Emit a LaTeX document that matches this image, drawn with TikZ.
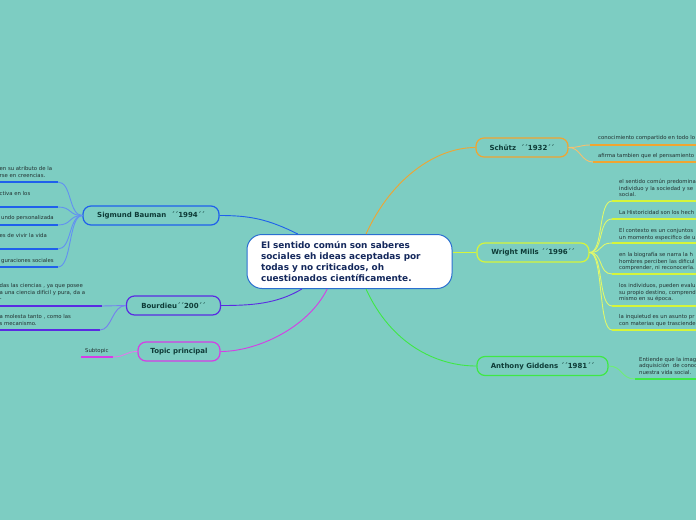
\documentclass[tikz,border=0pt]{standalone}
\usepackage{fontspec}
\setmainfont{DejaVu Sans}
\usetikzlibrary{positioning}
\definecolor{map-bg}{HTML}{7DCDC2}
\definecolor{map-navy}{HTML}{14285C}
\definecolor{map-dark}{HTML}{0E3B37}
\definecolor{map-sub}{HTML}{223030}
\definecolor{map-main}{HTML}{2A6FD0}
\definecolor{map-orange}{HTML}{F0A531}
\definecolor{map-lime}{HTML}{D6F53A}
\definecolor{map-green}{HTML}{3FE845}
\definecolor{map-blue}{HTML}{1F60EC}
\definecolor{map-indigo}{HTML}{5A2BE2}
\definecolor{map-magenta}{HTML}{D63CE6}

\begin{document}
\begin{tikzpicture}[x=1pt,y=-1pt,
  topic/.style={draw,rounded corners=8pt,line width=1.2pt,fill=map-bg,text=map-dark,
    font=\fontsize{7}{8}\selectfont\bfseries,minimum height=19pt,inner sep=0pt},
  subtext/.style={anchor=north west,align=left,inner sep=0pt,text=map-sub,
    font=\fontsize{5.35}{6.5}\selectfont},
  subline/.style={line width=2pt},
  link/.style={line width=0.9pt}]
  \useasboundingbox (0,0) rectangle (696,520);
  \fill[map-bg] (0,0) rectangle (696,520);
  \clip (0,0) rectangle (696,520);

  % central idea
  \node[draw=map-main,line width=1pt,fill=white,rounded corners=15pt,minimum width=205pt,
    minimum height=54pt,text width=177pt,inner xsep=14pt,inner ysep=0pt,align=left,
    font=\fontsize{8.9}{11.3}\selectfont\bfseries,text=map-navy] (main) at (349.5,261.5)
    {El sentido común son saberes\\sociales eh ideas aceptadas por\\todas y no criticados, oh\\cuestionados científicamente.};

  % main topics
  \node[topic,draw=map-orange,minimum width=92pt] (schutz) at (522,147.5) {Schütz\ \ ´´1932´´};
  \node[topic,draw=map-lime,minimum width=112pt] (mills) at (533,252.5) {Wright Mills ´´1996´´};
  \node[topic,draw=map-green,minimum width=131pt] (giddens) at (542.5,366) {Anthony Giddens ´´1981´´};
  \node[topic,draw=map-blue,minimum width=136pt] (bauman) at (151,215.5) {Sigmund Bauman\ \ ´´1994´´};
  \node[topic,draw=map-indigo,minimum width=94pt] (bourdieu) at (173.5,305.5) {Bourdieu´´200´´};
  \node[topic,draw=map-magenta,minimum width=82pt] (topic) at (179,351.5) {Topic principal};

  \draw[link,map-orange] (main.59) .. controls +(25,-55) and +(-40,0) .. (schutz.west);
  \draw[link,map-lime] (main.east |- mills.west) -- (mills.west);
  \draw[link,map-green] (main.-59) .. controls +(25,55) and +(-40,0) .. (giddens.west);
  \draw[link,map-blue] (main.152) .. controls +(-30,-15) and +(30,0) .. (bauman.east);
  \draw[link,map-indigo] (main.210) .. controls +(-25,15) and +(30,0) .. (bourdieu.east);
  \draw[link,map-magenta] (main.231) .. controls +(-20,40) and +(35,0) .. (topic.east);

  % Bauman
  \foreach \y [count=\i] in {182,207,225,249,267}{
    \coordinate (bau\i) at (58,\y);
    \draw[subline,map-blue] (bau\i) -- ++(-60,0);
    \draw[link,map-blue!70!white] (bauman.west) .. controls +(-14,0) and +(14,0) .. (bau\i);
  }
  \node[subtext] (baut1) at (-0.5,166.5) {en su atributo de la\\rse en creencias.};
  \node[subtext] (baut2) at (-0.5,191.5) {ctiva en los};
  \node[subtext] (baut3) at (1,215.5) {undo personalizada};
  \node[subtext] (baut4) at (-0.5,233.5) {es de vivir la vida};
  \node[subtext] (baut5) at (1,258.5) {guraciones sociales};

  % Bourdieu
  \coordinate (bou1) at (102,306);
  \coordinate (bou2) at (100,330);
  \draw[subline,map-indigo] (bou1) -- ++(-104,0);
  \draw[subline,map-indigo] (bou2) -- ++(-102,0);
  \draw[link,map-indigo!45!map-blue!70!white] (bourdieu.west) -- (bou1);
  \draw[link,map-indigo!45!map-blue!70!white] (bourdieu.west) .. controls +(-14,0) and +(12,0) .. (bou2);
  \node[subtext] (bout1) at (-0.5,283.5) {das las ciencias , ya que posee\\a una ciencia difícil y pura, da a\\-};
  \node[subtext] (bout2) at (-0.5,314.5) {a molesta tanto , como las\\s mecanismo.};

  % Topic principal
  \coordinate (top1) at (113,357);
  \draw[subline,map-magenta] (top1) -- (81,357);
  \draw[link,map-magenta!70!white] (topic.west) .. controls +(-12,0) and +(12,0) .. (top1);
  \node[subtext] (topt1) at (85,348.5) {Subtopic};

  % Schütz
  \coordinate (sch1) at (590,145);
  \coordinate (sch2) at (593,162);
  \draw[subline,map-orange] (sch1) -- ++(110,0);
  \draw[subline,map-orange] (sch2) -- ++(110,0);
  \draw[link,map-orange!70!white] (schutz.east) .. controls +(12,0) and +(-10,0) .. (sch1);
  \draw[link,map-orange!70!white] (schutz.east) .. controls +(12,0) and +(-12,0) .. (sch2);
  \node[subtext] (scht1) at (598,135.5) {conocimiento compartido en todo lo};
  \node[subtext] (scht2) at (598,153.5) {afirma tambien que el pensamiento};

  % Wright Mills
  \foreach \y [count=\i] in {201,219,243,274,306,330}{
    \coordinate (wm\i) at (612,\y);
    \draw[subline,map-lime] (wm\i) -- ++(90,0);
    \draw[link,map-lime!75!white] (mills.east) .. controls +(14,0) and +(-14,0) .. (wm\i);
  }
  \node[subtext] (wmt1) at (619,179.5) {el sentido común predomina\\individuo y la sociedad y se\\social.};
  \node[subtext] (wmt2) at (619,210.5) {La Historicidad son los hech};
  \node[subtext] (wmt3) at (619,228.5) {El contexto es un conjuntos\\un momento especifico de u};
  \node[subtext] (wmt4) at (619,252.5) {en la biografía se narra la h\\hombres perciben las dificul\\comprender, ni reconocerla.};
  \node[subtext] (wmt5) at (619,283.5) {los individuos, pueden evalu\\su propio destino, comprend\\mismo en su época.};
  \node[subtext] (wmt6) at (619,314.5) {la inquietud es un asunto pr\\con materias que trascienden};

  % Giddens
  \coordinate (gid1) at (635,379);
  \draw[subline,map-green] (gid1) -- ++(70,0);
  \draw[link,map-green!75!white] (giddens.east) .. controls +(14,0) and +(-14,0) .. (gid1);
  \node[subtext] (gidt1) at (639,357) {Entiende que la imag\\adquisición\ \ de conoc\\nuestra vida social.};
\end{tikzpicture}
\end{document}
